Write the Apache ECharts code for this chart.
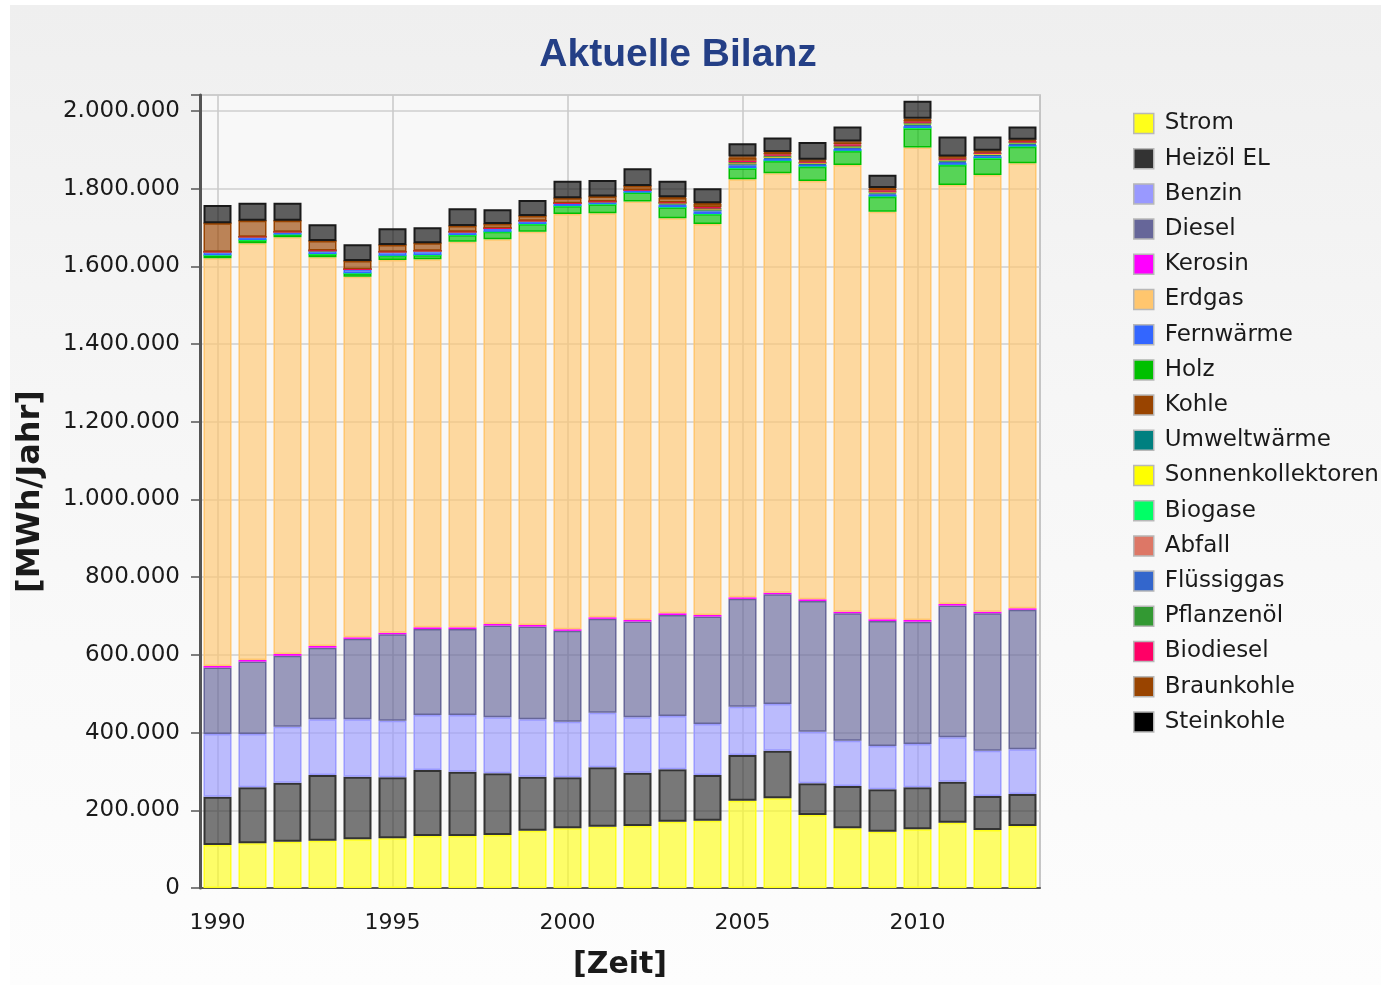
<!DOCTYPE html>
<html>
<head>
<meta charset="utf-8">
<title>Aktuelle Bilanz</title>
<script src="https://cdn.jsdelivr.net/npm/echarts@6/dist/echarts.min.js"></script>
<style>
  html, body { margin: 0; padding: 0; background: #fff; }
  #chart {
    position: absolute; left: 10px; top: 5px; width: 1371px; height: 980px;
    background: linear-gradient(#efefef, #f6f6f6 40%, #fdfdfd);
  }
</style>
</head>
<body>
<div id="chart"></div>
<script>
// data (MWh/Jahr)
const years = ["1990", "1991", "1992", "1993", "1994", "1995", "1996", "1997", "1998", "1999", "2000", "2001",
  "2002", "2003", "2004", "2005", "2006", "2007", "2008", "2009", "2010", "2011", "2012", "2013"];
const strom = [110700, 115000, 119200, 121800, 125400, 127900, 133800, 133800, 136400, 147500, 153700, 157800,
  159600, 170700, 173200, 224700, 230900, 187900, 153700, 144900, 151100, 168100, 149300, 159600];
const heizoel = [124300, 144100, 151900, 169100, 161100, 157000, 169900, 165500, 158800, 139000, 131300, 152900,
  137200, 134900, 117600, 117600, 122500, 81600, 108900, 109100, 108100, 105500, 87500, 82400];
const benzin = [161400, 137200, 144100, 143400, 147700, 145700, 141600, 145900, 144100, 147700, 143100, 140500,
  142600, 137200, 131300, 124300, 120200, 132800, 116600, 111500, 111500, 114300, 116600, 115100];
const diesel = [171000, 186500, 182600, 184200, 207000, 222500, 221200, 221200, 236200, 238700, 233800, 241600,
  246500, 259800, 276600, 277600, 282500, 336300, 328000, 321600, 314700, 339100, 353800, 358900];
const kerosin = [4000, 4000, 4500, 4500, 4000, 4000, 4500, 4500, 4000, 4000, 4000, 4000,
  4000, 4500, 4000, 4000, 4000, 4500, 4000, 4500, 4500, 4000, 4000, 4000];
const erdgas = [1049400, 1072600, 1072600, 1000500, 928200, 959300, 947200, 992500, 990200, 1012400, 1069000, 1039900,
  1076700, 1016700, 1006400, 1075900, 1079500, 1076700, 1149800, 1049200, 1215700, 1078500, 1124100, 1145400];
const fernwaerme = [9000, 8500, 7400, 8500, 10000, 10400, 11000, 8500, 8700, 8500, 6900, 6700,
  6900, 6000, 6000, 6000, 5000, 4000, 5000, 5000, 5000, 5000, 4500, 4000];
const holz = [8000, 8500, 7000, 8500, 9000, 11000, 11000, 17200, 19600, 19800, 20600, 23200,
  23200, 28300, 25700, 28300, 31700, 36800, 36000, 38600, 49900, 51500, 43000, 42700];
const kohle = [73100, 41200, 28300, 25000, 21400, 17200, 19000, 14700, 11100, 12100, 12900, 12900,
  10300, 11000, 8000, 8000, 4500, 3000, 5000, 4000, 5000, 4000, 3500, 3000];
const umweltwaerme = [0, 0, 0, 0, 0, 0, 0, 0, 0, 0, 0, 0,
  0, 500, 1000, 1000, 1000, 1000, 1500, 1500, 2000, 2000, 2000, 2000];
const sonnenkollektoren = [0, 0, 0, 0, 0, 0, 0, 0, 0, 0, 0, 0,
  0, 500, 1000, 1000, 1000, 1000, 1000, 1000, 1500, 1500, 1500, 1500];
const biogase = [0, 0, 0, 0, 0, 0, 0, 0, 0, 0, 0, 0,
  0, 0, 0, 500, 500, 500, 500, 500, 500, 500, 500, 500];
const abfall = [0, 0, 0, 0, 0, 0, 0, 0, 0, 0, 0, 0,
  0, 1500, 2000, 2000, 2000, 1500, 2000, 2000, 2000, 1500, 1500, 1200];
const fluessiggas = [0, 0, 0, 0, 0, 0, 0, 0, 0, 0, 0, 0,
  0, 3000, 4000, 4000, 3000, 2500, 3000, 3000, 3000, 3000, 2500, 2500];
const pflanzenoel = [0, 0, 0, 0, 0, 0, 0, 0, 0, 0, 0, 0,
  0, 0, 500, 1000, 1000, 500, 1000, 500, 500, 500, 300, 300];
const biodiesel = [0, 0, 0, 0, 0, 0, 0, 0, 0, 0, 0, 0,
  0, 1000, 3000, 4000, 3000, 2000, 3000, 2500, 2500, 2000, 1500, 1500];
const braunkohle = [0, 0, 0, 0, 0, 0, 0, 0, 0, 0, 0, 0,
  0, 2200, 2000, 3000, 2000, 1700, 2400, 2100, 2400, 1900, 1500, 1200];
const steinkohle = [47100, 46300, 46300, 43000, 43000, 43000, 41200, 45600, 37800, 41200, 45300, 43000,
  45600, 42700, 38600, 34000, 37600, 45600, 38600, 34200, 46300, 51500, 36800, 34200];
const gridYears = ["1990", "1995", "2000", "2005", "2010"];

// legend order as in the reference
const legendNames = ["Strom", "Heizöl EL", "Benzin", "Diesel", "Kerosin", "Erdgas", "Fernwärme", "Holz", "Kohle",
  "Umweltwärme", "Sonnenkollektoren", "Biogase", "Abfall", "Flüssiggas", "Pflanzenöl", "Biodiesel",
  "Braunkohle", "Steinkohle"];

const colors = {
  "Strom": "#ffff1a",
  "Heizöl EL": "#333333",
  "Benzin": "#9999ff",
  "Diesel": "#666699",
  "Kerosin": "#ff00ff",
  "Erdgas": "#ffc66e",
  "Fernwärme": "#3366ff",
  "Holz": "#00c000",
  "Kohle": "#994400",
  "Umweltwärme": "#008080",
  "Sonnenkollektoren": "#ffff00",
  "Biogase": "#00ff66",
  "Abfall": "#dd7766",
  "Flüssiggas": "#3366cc",
  "Pflanzenöl": "#339933",
  "Biodiesel": "#ff0066",
  "Braunkohle": "#994400",
  "Steinkohle": "#000000"
};

// stacking order, bottom to top
const stackOrder = [
  ["Strom", strom], ["Heizöl EL", heizoel], ["Benzin", benzin], ["Diesel", diesel], ["Kerosin", kerosin],
  ["Erdgas", erdgas], ["Holz", holz], ["Biogase", biogase], ["Fernwärme", fernwaerme], ["Flüssiggas", fluessiggas],
  ["Umweltwärme", umweltwaerme], ["Sonnenkollektoren", sonnenkollektoren], ["Abfall", abfall],
  ["Pflanzenöl", pflanzenoel], ["Biodiesel", biodiesel], ["Kohle", kohle], ["Braunkohle", braunkohle],
  ["Steinkohle", steinkohle]
];

function rgba(hex, a) {
  const r = parseInt(hex.slice(1, 3), 16);
  const g = parseInt(hex.slice(3, 5), 16);
  const b = parseInt(hex.slice(5, 7), 16);
  return "rgba(" + r + "," + g + "," + b + "," + a + ")";
}

function fmt(v) {
  return String(v).replace(/\B(?=(\d{3})+(?!\d))/g, ".");
}

const font = "DejaVu Sans";

const series = stackOrder.map(function (s, i) {
  const dark = s[0] === "Heizöl EL" || s[0] === "Steinkohle";
  const item = {
    name: s[0],
    type: "bar",
    stack: "total",
    barCategoryGap: "20%",
    data: s[1],
    itemStyle: {
      color: rgba(colors[s[0]], 0.65),
      borderColor: colors[s[0]],
      borderWidth: dark ? 2 : 1.5
    },
    emphasis: { disabled: true },
    animation: false
  };
  if (s[0] === "Steinkohle") {
    item.itemStyle.color = "rgba(0,0,0,0.62)";
    item.itemStyle.borderColor = "#1a1a1a";
  }
  if (i === 0) {
    item.markLine = {
      silent: true,
      symbol: "none",
      z: 1,
      label: { show: false },
      lineStyle: { color: "#c8c8c8", width: 1.5, type: "solid" },
      data: gridYears.map(function (y) { return { xAxis: y }; })
    };
  }
  return item;
});

const chart = echarts.init(document.getElementById("chart"));

chart.setOption({
  backgroundColor: "transparent",
  title: {
    text: "Aktuelle Bilanz",
    left: 668,
    top: 31,
    textAlign: "center",
    padding: 0,
    textStyle: {
      fontFamily: "Liberation Sans",
      fontWeight: "bold",
      fontSize: 39,
      color: "#243f86"
    }
  },
  legend: {
    orient: "vertical",
    left: 1118,
    top: 102,
    itemWidth: 20,
    itemHeight: 20,
    itemGap: 12.2,
    icon: "rect",
    selectedMode: false,
    textStyle: {
      fontFamily: font,
      fontSize: 23,
      color: "#1a1a1a",
      padding: [0, 0, 0, 6]
    },
    data: legendNames.map(function (n) {
      return {
        name: n,
        itemStyle: { color: colors[n], borderColor: "#b8b8b8", borderWidth: 1.5, opacity: 1 }
      };
    })
  },
  grid: {
    left: 190,
    top: 90,
    width: 840,
    height: 793,
    outerBoundsMode: "none",
    show: true,
    backgroundColor: "#f8f8f8",
    borderColor: "#b5b5b5",
    borderWidth: 1.5
  },
  xAxis: {
    type: "category",
    data: years,
    name: "[Zeit]",
    nameLocation: "middle",
    nameGap: 62,
    nameTextStyle: { fontFamily: font, fontWeight: "bold", fontSize: 30, color: "#1a1a1a" },
    axisLine: { lineStyle: { color: "#555", width: 2 } },
    axisTick: {
      alignWithLabel: true,
      length: 7,
      interval: function (i) { return i % 5 === 0; },
      lineStyle: { color: "#555", width: 1.5 }
    },
    axisLabel: {
      interval: function (i) { return i % 5 === 0; },
      margin: 24,
      fontFamily: font,
      fontSize: 22,
      color: "#1a1a1a"
    },
    splitLine: { show: false }
  },
  yAxis: {
    type: "value",
    min: 0,
    max: 2041000,
    interval: 200000,
    name: "[MWh/Jahr]",
    nameLocation: "middle",
    nameGap: 153,
    nameTextStyle: { fontFamily: font, fontWeight: "bold", fontSize: 32, color: "#1a1a1a" },
    axisLine: { show: true, lineStyle: { color: "#555", width: 3 } },
    axisTick: { show: true, length: 9, lineStyle: { color: "#555", width: 1.5 } },
    axisLabel: {
      margin: 20,
      fontFamily: font,
      fontSize: 23,
      color: "#1a1a1a",
      formatter: function (v) { return v % 200000 === 0 ? fmt(v) : ""; }
    },
    splitLine: { lineStyle: { color: "#cfcfcf", width: 1.5 } }
  },
  series: series
});
</script>
</body>
</html>
